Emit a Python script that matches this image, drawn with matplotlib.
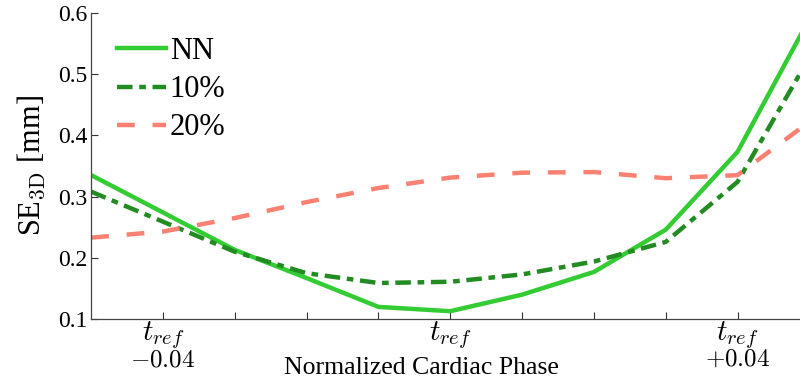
import matplotlib
matplotlib.use("Agg")
import matplotlib.pyplot as plt
import numpy as np

plt.rcParams['font.family'] = ['Liberation Serif', 'DejaVu Serif']
plt.rcParams['mathtext.fontset'] = 'cm'

phase = np.arange(11)
nn = [0.335, 0.274, 0.213, 0.167, 0.120, 0.113, 0.140, 0.177, 0.246, 0.373, 0.590]
p10 = [0.308, 0.259, 0.210, 0.175, 0.159, 0.161, 0.173, 0.194, 0.226, 0.324, 0.527]
p20 = [0.233, 0.243, 0.265, 0.291, 0.314, 0.331, 0.339, 0.340, 0.330, 0.335, 0.422]
tick_pos = [1, 2, 3, 4, 5, 6, 7, 8, 9]
tick_labels = ['$t_{ref}$', '', '', '', '$t_{ref}$', '', '', '', '$t_{ref}$']
offset_pos = [1, 9]
offset_labels = ['$-0.04$', '$+0.04$']
yticks = [0.1, 0.2, 0.3, 0.4, 0.5, 0.6]
ytick_labels = ['0.1', '0.2', '0.3', '0.4', '0.5', '0.6']

fig = plt.figure(figsize=(8, 3.85), dpi=100)
ax = fig.add_axes([0.114, 0.171, 0.886, 0.796])

ax.plot(phase, nn, color='#33CC33', lw=3.2, ls='-', label='NN')
ax.plot(phase, p10, color='#228B22', lw=3.2, ls=(0, (3.5, 1.5, 1.5, 1.5)), label='10%')
ax.plot(phase, p20, color='#FA8072', lw=3.2, ls=(0, (4, 4)), label='20%')

ax.set_xlim(0, 9.87)
ax.set_ylim(0.1, 0.6)
ax.xaxis.remove_overlapping_locs = False
ax.set_xticks(tick_pos)
ax.set_xticklabels(tick_labels, fontsize=21)
ax.set_xticks(offset_pos, minor=True)
ax.set_xticklabels(offset_labels, minor=True, fontsize=18)
ax.set_yticks(yticks)
ax.set_yticklabels(ytick_labels, fontsize=17)
ax.tick_params(direction='in', length=5, width=0.8, color='#333333')
ax.tick_params(axis='x', which='major', pad=0)
ax.tick_params(axis='x', which='minor', length=0, pad=21.5)
ax.tick_params(axis='y', pad=3)
for s in ['top', 'right']:
    ax.spines[s].set_visible(False)
for s in ['left', 'bottom']:
    ax.spines[s].set_color('#444444')
    ax.spines[s].set_linewidth(0.9)

ax.set_xlabel('Normalized Cardiac Phase', fontsize=18.5)
ax.xaxis.set_label_coords(0.466, -0.125)
ax.set_ylabel('SE$_{\\mathrm{3D}}$ [mm]', fontsize=22, labelpad=8)

ax.legend(loc='upper left', frameon=False, fontsize=22, handlelength=1.6,
          handletextpad=0.12, labelspacing=0.3, borderaxespad=0.45,
          bbox_to_anchor=(0.0, 1.005))

fig.savefig('out.png', dpi=100)
